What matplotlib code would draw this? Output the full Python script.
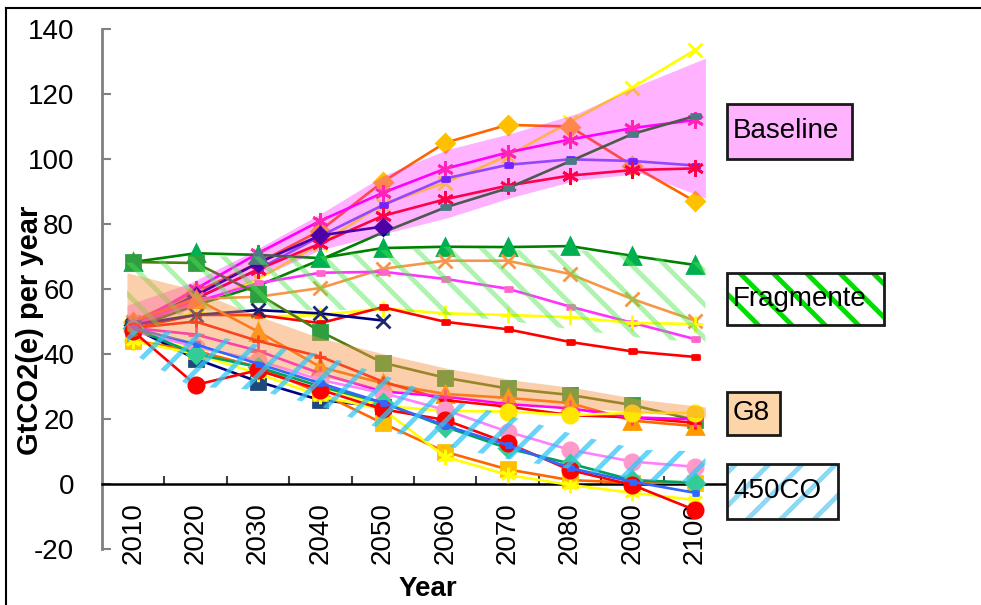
import numpy as np
import matplotlib
matplotlib.use('Agg')
import matplotlib.pyplot as plt
from matplotlib.patches import Rectangle
from matplotlib.lines import Line2D

plt.rcParams['font.family'] = ['Liberation Sans', 'DejaVu Sans']
plt.rcParams['axes.unicode_minus'] = False
plt.rcParams['hatch.linewidth'] = 3.5

nan = np.nan
years = [2010, 2020, 2030, 2040, 2050, 2060, 2070, 2080, 2090, 2100]

# Baseline runs
base_yellow_x = [49, 55, 63, 74, 86, 92.7, 101, 111.4, 122, 133.5]
base_orange_diamond = [50, 59, 68, 78, 93, 105, 110.5, 110, 98, 87]
base_magenta_star = [49, 60, 71, 81, 89.6, 97, 102, 106, 109.5, 112]
base_blue_dash = [48, 57, 66, 76.3, 85.8, 94, 98.2, 99.9, 99.4, 98]
base_red_star = [48, 57, 66, 74, 82.5, 87.6, 91.8, 94.9, 96.6, 97.1]
base_green_dash = [48, 55, 61, 69, 77.4, 85.1, 91, 99.3, 107.7, 113.2]
base_navy_diamond = [49, 58, 68, 76.5, 79.2, nan, nan, nan, nan, nan]

# Fragmented runs
frag_green_tri = [68.3, 71, 70.5, 69.5, 72.6, 73, 72.9, 73.2, 70.2, 67.4]
frag_orange_x = [50, 57, 57.6, 60.3, 66.2, 68.7, 68.7, 64.6, 56.9, 50.3]
frag_pink_dash = [49, 56, 61.8, 65, 65.3, 63.1, 60.1, 54.6, 49.6, 44.6]
frag_yellow_plus = [48, 52.6, 51.5, 52, 54, 52.5, 52, 51.3, 49.6, 49.2]
frag_red_dash = [48, 52, 52, 49.5, 54.4, 49.9, 47.6, 43.7, 40.8, 39.1]
frag_navy_x = [49, 52, 53.5, 52.5, 50.3, nan, nan, nan, nan, nan]

# G8 runs
g8_green_sq = [68.3, 68, 58.5, 46.9, 37.3, 32.7, 29.4, 27.4, 24.3, 19.7]
g8_orange_tri = [50, 57, 46.9, 36, 31, 27.7, 26.5, 24.9, 19.5, 17.8]
g8_red_plus = [48, 50, 44, 39.2, 31.5, 25.8, 23.8, 21.2, 20.5, 18.8]
g8_magenta_plus = [48, 46, 41, 34, 28.5, 26.9, 24.6, 23.3, 20.5, 19.9]
g8_yellow_circle = [44, 42, 38, 30, 24, 22.5, 22.3, 21.2, 21.9, 21.9]

# 450CO runs
co_navy_sq = [48, 38.5, 31.5, 25.8, 23.8, nan, nan, nan, nan, nan]
co_gold_sq = [44, 41, 36, 28, 18.7, 9.9, 4.5, 1.2, 0.4, 0.4]
co_yellow_star = [44, 40, 34, 27, 23, 8.4, 2.8, -0.3, -2.7, -4.9]
co_pink_circle = [47, 42.3, 38, 32, 28, 22.8, 16.1, 10.5, 6.9, 5.3]
co_green_diamond = [48, 40, 36, 30, 25, 17.6, 11, 6.3, 1.2, 0.4]
co_red_circle = [47, 30.5, 35, 29, 23, 19.7, 12.6, 4.3, -0.3, -8]
co_blue = [48, 43, 37, 31, 25, 18, 12, 4.9, 0.7, -2.7]

# scenario ranges
base_lo = [47, 54, 63, 72, 77, 82, 88.3, 93.5, 95.6, 88]
base_hi = [55, 62, 72, 83, 95, 103, 108, 114, 123, 131]
frag_lo = [44, 53.5, 53.5, 53.5, 53.5, 52, 50, 47.4, 45, 43.4]
frag_hi = [68, 70, 70, 70, 72, 73, 72, 72, 70, 68]
g8_lo = [47, 44, 38, 33, 29, 27, 25, 23.5, 22, 20.3]
g8_hi = [65, 60, 52, 45, 40, 35.5, 32, 29.5, 26, 23.7]
co_lo = [41, 30, 29, 24, 16.6, 11.5, 7.4, 4.3, 1.2, 0.3]
co_hi = [47, 47, 43, 40, 33.5, 26, 20.7, 15, 10.5, 10]

W, H = 981, 605
fig = plt.figure(figsize=(W / 100, H / 100), dpi=100)
ax = fig.add_axes([102 / W, 1 - 549 / H, 624 / W, 520 / H])
x = np.arange(len(years))

rect = [(-1, -0.5), (1, -0.5), (1, 0.5), (-1, 0.5)]
star = (6, 2, 0)

series = [
    # values, line colour, marker, marker colour, marker size
    (base_yellow_x, '#ffff00', 'x', '#ffff00', 10),
    (base_orange_diamond, '#ff6600', 'D', '#ffc000', 9),
    (base_magenta_star, '#ff00ff', star, '#ff3399', 12),
    (base_blue_dash, '#6666ff', rect, '#3333ff', 6),
    (base_red_star, '#ff0000', star, '#ff0000', 12),
    (base_green_dash, '#008000', rect, '#00b050', 7),
    (base_navy_diamond, '#000080', 'D', '#000080', 8),
    (frag_green_tri, '#008000', '^', '#00b050', 11),
    (frag_orange_x, '#f79646', 'x', '#f79646', 10),
    (frag_pink_dash, '#ff33ff', rect, '#ff66cc', 6),
    (frag_yellow_plus, '#ffff00', '+', '#ffff00', 11),
    (frag_red_dash, '#ff0000', rect, '#ff0000', 6),
    (frag_navy_x, '#000080', 'x', '#1a2a6c', 10),
    (g8_green_sq, '#4d7c0f', 's', '#2e9e40', 10),
    (g8_orange_tri, '#ff6600', '^', '#ff9900', 11),
    (g8_red_plus, '#ff0000', '+', '#ff0000', 9),
    (g8_magenta_plus, '#ff00ff', '+', '#ff3399', 11),
    (g8_yellow_circle, '#ffff00', 'o', '#ffe600', 11),
    (co_navy_sq, '#000080', 's', '#1f497d', 10),
    (co_gold_sq, '#ff6600', 's', '#ffc000', 10),
    (co_yellow_star, '#ffff00', star, '#ffff00', 11),
    (co_pink_circle, '#ff80ff', 'o', '#ff99cc', 11),
    (co_green_diamond, '#00a060', 'D', '#33cc99', 9),
    (co_red_circle, '#ff0000', 'o', '#ff0000', 11),
    (co_blue, '#3366ff', rect, '#3366ff', 5),
]

for vals, lc, mk, mc, ms in series:
    ax.plot(x, vals, color=lc, lw=1.9, marker=mk, ms=ms, mfc=mc, mec=mc,
            mew=2, zorder=3)

# ranges drawn over the runs
bx = np.linspace(-0.1, 9.17, len(years))
ax.fill_between(bx, base_lo, base_hi, color='#ff00ff', alpha=0.3, lw=0, zorder=4)
ax.fill_between(bx, frag_lo, frag_hi, facecolor='none',
                edgecolor=(0.3, 0.9, 0.3, 0.45), hatch='\\', lw=0, zorder=4)
ax.fill_between(bx, g8_lo, g8_hi, color='#f79646', alpha=0.45, lw=0, zorder=4)
ax.fill_between(bx, co_lo, co_hi, facecolor='none',
                edgecolor=(0.2, 0.78, 0.97, 0.75), hatch='/', lw=0, zorder=4)

ax.set_xlim(-0.5, 9.5)
ax.set_ylim(-20, 140)
ax.set_yticks(range(-20, 141, 20))
ax.set_xticks(x)
ax.set_xticklabels([str(y) for y in years])
ax.set_xticks(x[:-1] + 0.5, minor=True)
ax.tick_params(axis='y', direction='in', length=6.5, width=1.5, color='#808080',
               pad=20, labelsize=20)
ax.tick_params(axis='x', which='major', length=0, pad=13, labelsize=20,
               labelrotation=90)
ax.tick_params(axis='x', which='minor', direction='in', length=6, width=1.5,
               color='#404040')

for s in ['top', 'right']:
    ax.spines[s].set_visible(False)
ax.spines['left'].set_color('#808080')
ax.spines['left'].set_linewidth(2)
ax.spines['bottom'].set_position(('data', 0))
ax.spines['bottom'].set_linewidth(1.8)
ax.spines['bottom'].set_zorder(2.6)

fig.text(30 / W, 1 - 330 / H, 'GtCO2(e) per year', rotation=90, ha='center',
         va='center', fontsize=21, fontweight='bold')
fig.text(428 / W, 1 - 589 / H, 'Year', ha='center', va='center', fontsize=20,
         fontweight='bold')


def label_box(x0, y0, x1, y1, text, face='white', hatch=None, hcolor=None):
    fx, fy = x0 / W, 1 - y1 / H
    w, h = (x1 - x0) / W, (y1 - y0) / H
    if hatch:
        fig.patches.append(Rectangle((fx, fy), w, h, transform=fig.transFigure,
                                     facecolor='white', edgecolor=hcolor,
                                     hatch=hatch, lw=0))
        face = 'none'
    fig.patches.append(Rectangle((fx, fy), w, h, transform=fig.transFigure,
                                 facecolor=face, edgecolor='#1a1a1a', lw=2))
    fig.text((x0 + 6) / W, 1 - (y0 + y1) / 2 / H, text, ha='left', va='center',
             fontsize=20)


label_box(727, 104, 852, 159, 'Baseline', face='#ffb3ff')
label_box(727, 273, 884, 325, 'Fragmente', hatch='\\', hcolor='#00dd00')
label_box(727, 392, 780, 435, 'G8', face='#fcd5a8')
label_box(727, 464, 838, 519, '450CO', hatch='/', hcolor='#8fd8f5')

# outer frame
fig.add_artist(Line2D([6 / W, 6 / W], [0, 1 - 8 / H], transform=fig.transFigure,
                      color='black', lw=1.5))
fig.add_artist(Line2D([6 / W, 1], [1 - 8 / H, 1 - 8 / H], transform=fig.transFigure,
                      color='black', lw=1.5))

fig.savefig('out.png', dpi=100)
